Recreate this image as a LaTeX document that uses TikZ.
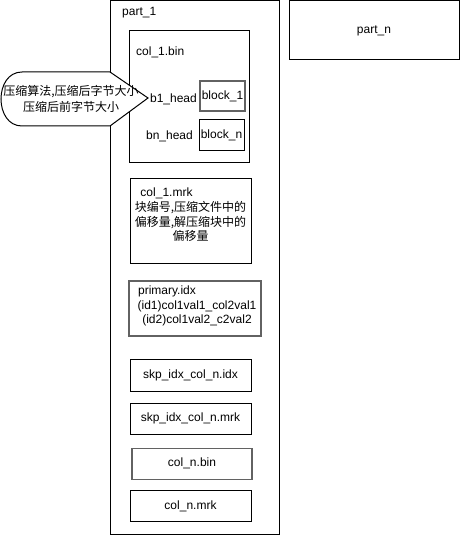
\documentclass[tikz,border=0pt]{standalone}
\usepackage{fontspec}
\setmainfont{Liberation Sans}
\newfontfamily\cjk{Noto Sans CJK SC}
\usetikzlibrary{positioning}
\definecolor{edgegray}{HTML}{626262}
\tikzstyle{block} = [rectangle, draw, line width=1pt, inner sep=0pt,
    font=\fontsize{12}{14.6}\selectfont]
\tikzstyle{grayblock} = [block, draw=edgegray, line width=1.6pt]
\tikzstyle{txt} = [inner sep=0pt, font=\fontsize{12}{14.6}\selectfont]

\begin{document}
\begin{tikzpicture}[x=1pt, y=-1pt, node distance = 11pt]
  \useasboundingbox (0,0) rectangle (460,537);

  % partitions
  \node [block, minimum width=169pt, minimum height=533pt] (part1) at (194.5,267.5) {};
  \node [txt, anchor=west] (part1lbl) at (122,13) {part\_1};
  \node [block, minimum width=170pt, minimum height=59pt] (partn) at (374,30.5) {part\_n};

  % col_1.bin
  \node [block, minimum width=120pt, minimum height=132pt] (bin1) at (189,97) {};
  \node [txt, anchor=west] (bin1lbl) at (136,52) {col\_1.bin};

  % callout
  \draw [fill=white, line width=1pt] (110,72) -- (148,98) -- (110,126) -- (22,126)
    .. controls (-6,126) and (-6,72) .. (22,72) -- cycle;
  \node [txt, align=center, font=\cjk\fontsize{12}{16}\selectfont] (callout) at (71,99)
    {压缩算法,压缩后字节大小\\压缩后前字节大小};

  \node [txt, anchor=east] (b1head) at (197,99) {b1\_head};
  \node [txt, anchor=east] (bnhead) at (193,136) {bn\_head};
  \node [grayblock, minimum width=45pt, minimum height=30pt] (blk1) at (222.5,96) {block\_1};
  \node [block, minimum width=45pt, minimum height=31pt] (blkn) at (221.5,135.5) {block\_n};

  % col_1.mrk
  \node [block, minimum width=121pt, minimum height=84pt] (mrk1) at (190.5,221) {};
  \node [txt, align=center] (mrk1txt) at (190.5,215)
    {col\_1.mrk\hspace*{48pt}\\{\cjk 块编号,压缩文件中的}\\{\cjk 偏移量,解压缩块中的}\\{\cjk 偏移量}};

  % primary.idx
  \node [grayblock, minimum width=132pt, minimum height=55pt] (pidx) at (195,308.5) {};
  \node [txt, align=center] (pidxtxt) at (197,306)
    {primary.idx\hspace*{60pt}\\(id1)col1val1\_col2val1\\(id2)col1val2\_c2val2};

  % remaining files
  \node [block, minimum width=121pt, minimum height=32pt] (skpidx) at (190.5,375) {skp\_idx\_col\_n.idx};
  \node [block, minimum width=121pt, minimum height=31pt, below=11pt of skpidx] (skpmrk) {skp\_idx\_col\_n.mrk};
  \node [grayblock, minimum width=120pt, minimum height=31pt, below=13pt of skpmrk, xshift=1.5pt] (colnbin) {col\_n.bin};
  \node [block, minimum width=121pt, minimum height=31pt, below=10pt of colnbin, xshift=-1.5pt] (colnmrk) {col\_n.mrk};
\end{tikzpicture}
\end{document}
